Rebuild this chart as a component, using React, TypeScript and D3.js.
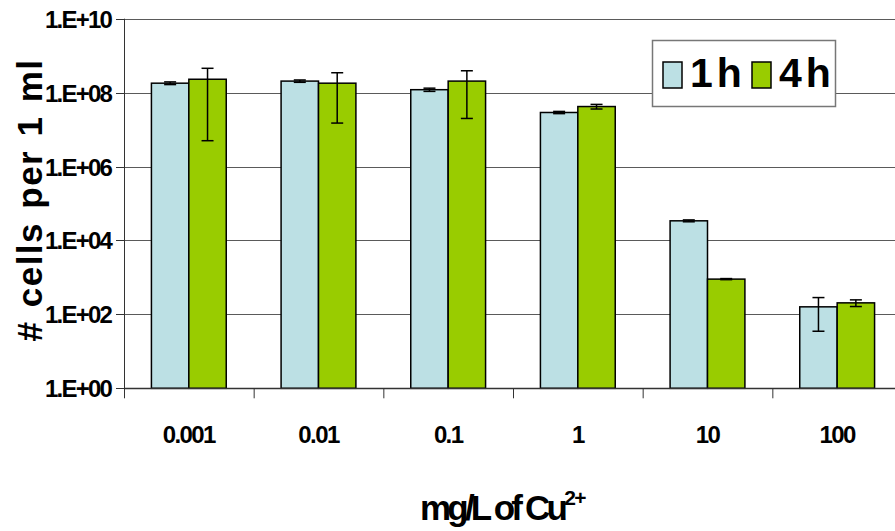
import * as d3 from "d3";
import { useEffect, useRef } from "react";

const categories = ["0.001", "0.01", "0.1", "1", "10", "100"];
const series = ["1h", "4h"];
const values1h = [1.8e8, 2.05e8, 1.2e8, 2.9e7, 3.4e4, 160];
const errors1h = [1.5e7, 1.5e7, 1.2e7, 2e6, 2e3, 125];
const values4h = [2.3e8, 1.8e8, 2.05e8, 4.2e7, 900, 205];
const errors4h = [2.25e8, 1.65e8, 1.85e8, 6e6, 30, 42];
const yTicks = [1, 1e2, 1e4, 1e6, 1e8, 1e10];
const yTickLabels = ["1.E+00", "1.E+02", "1.E+04", "1.E+06", "1.E+08", "1.E+10"];

const colors = ["#BCE0E4", "#99CC00"];

export default function App() {
  const ref = useRef<SVGSVGElement | null>(null);
  const width = 895;
  const height = 531;

  useEffect(() => {
    const svg = d3.select(ref.current);
    svg.selectAll("*").remove();

    const left = 124;
    const right = 902; // plot runs past the right edge, as in the original
    const top = 18.7;
    const bottom = 388.3;
    const font = "'Liberation Sans', Arial, sans-serif";

    const x0 = d3
      .scaleBand<string>()
      .domain(categories)
      .range([left, right])
      .paddingInner(0.423)
      .paddingOuter(0.2115);
    const x1 = d3.scaleBand<string>().domain(series).range([0, x0.bandwidth()]);
    const y = d3.scaleLog().domain([1, 1e10]).range([bottom, top]);

    // gridlines
    svg
      .append("g")
      .selectAll("line")
      .data(yTicks.slice(1))
      .join("line")
      .attr("x1", left)
      .attr("x2", right)
      .attr("y1", (d) => Math.round(y(d)) + 0.5)
      .attr("y2", (d) => Math.round(y(d)) + 0.5)
      .attr("stroke", "#5a5a5a")
      .attr("stroke-width", 1);

    const rows = categories.map((c, i) => [
      { c, s: "1h", v: values1h[i], e: errors1h[i], k: 0 },
      { c, s: "4h", v: values4h[i], e: errors4h[i], k: 1 },
    ]).flat();

    const g = svg.append("g");
    g.selectAll("rect")
      .data(rows)
      .join("rect")
      .attr("x", (d) => x0(d.c)! + x1(d.s)!)
      .attr("y", (d) => y(d.v))
      .attr("width", x1.bandwidth())
      .attr("height", (d) => bottom - y(d.v))
      .attr("fill", (d) => colors[d.k])
      .attr("stroke", "#000")
      .attr("stroke-width", 1.5);

    // error bars
    const eb = svg.append("g").attr("stroke", "#000").attr("stroke-width", 1.5);
    rows.forEach((d) => {
      const cx = x0(d.c)! + x1(d.s)! + x1.bandwidth() / 2;
      const hi = y(d.v + d.e);
      const lo = y(Math.max(d.v - d.e, 1));
      eb.append("line").attr("x1", cx).attr("x2", cx).attr("y1", hi).attr("y2", lo);
      eb.append("line").attr("x1", cx - 6).attr("x2", cx + 6).attr("y1", hi).attr("y2", hi);
      eb.append("line").attr("x1", cx - 6).attr("x2", cx + 6).attr("y1", lo).attr("y2", lo);
    });

    // axes
    const axisColor = "#333";
    svg
      .append("line")
      .attr("x1", left + 0.5)
      .attr("x2", left + 0.5)
      .attr("y1", top)
      .attr("y2", bottom)
      .attr("stroke", axisColor);
    svg
      .append("line")
      .attr("x1", left)
      .attr("x2", right)
      .attr("y1", Math.round(bottom) + 0.5)
      .attr("y2", Math.round(bottom) + 0.5)
      .attr("stroke", axisColor)
      .attr("stroke-width", 1.5);

    svg
      .append("g")
      .selectAll("line")
      .data(yTicks)
      .join("line")
      .attr("x1", left - 8)
      .attr("x2", left)
      .attr("y1", (d) => Math.round(y(d)) + 0.5)
      .attr("y2", (d) => Math.round(y(d)) + 0.5)
      .attr("stroke", axisColor);

    svg
      .append("g")
      .selectAll("text")
      .data(yTicks)
      .join("text")
      .attr("x", 111)
      .attr("y", (d) => y(d) + 9)
      .attr("text-anchor", "end")
      .attr("font-family", font)
      .attr("font-weight", "bold")
      .attr("font-size", 24)
      .attr("letter-spacing", -1.8)
      .text((d, i) => yTickLabels[i]);

    const step = x0.step();
    svg
      .append("g")
      .selectAll("line")
      .data(d3.range(categories.length + 1))
      .join("line")
      .attr("x1", (i) => left + i * step + 0.5)
      .attr("x2", (i) => left + i * step + 0.5)
      .attr("y1", bottom)
      .attr("y2", bottom + 10)
      .attr("stroke", axisColor);

    svg
      .append("g")
      .selectAll("text")
      .data(categories)
      .join("text")
      .attr("x", (d) => x0(d)! + x0.bandwidth() / 2)
      .attr("y", 443)
      .attr("text-anchor", "middle")
      .attr("font-family", font)
      .attr("font-weight", "bold")
      .attr("font-size", 24)
      .attr("letter-spacing", -1.6)
      .text((d) => d);

    // axis titles
    const xt = svg
      .append("text")
      .attr("x", 420)
      .attr("y", 520)
      .attr("font-family", font)
      .attr("font-weight", "bold")
      .attr("font-size", 35)
      .attr("letter-spacing", -3.8);
    xt.append("tspan").text("mg/L of Cu");
    xt.append("tspan")
      .attr("dy", -15)
      .attr("font-size", 21)
      .attr("letter-spacing", -1.5)
      .text("2+");

    svg
      .append("text")
      .attr("transform", "translate(42,200) rotate(-90)")
      .attr("text-anchor", "middle")
      .attr("font-family", font)
      .attr("font-weight", "bold")
      .attr("font-size", 35)
      .attr("letter-spacing", 1.5)
      .attr("word-spacing", 2)
      .text("# cells per 1 ml");

    // legend
    const lg = svg.append("g");
    lg.append("rect")
      .attr("x", 652.5)
      .attr("y", 40.5)
      .attr("width", 183)
      .attr("height", 66)
      .attr("fill", "#fff")
      .attr("stroke", "#777")
      .attr("stroke-width", 1.5);
    const legendX = [663, 752];
    series.forEach((s, i) => {
      lg.append("rect")
        .attr("x", legendX[i])
        .attr("y", 62)
        .attr("width", 19)
        .attr("height", 26)
        .attr("fill", colors[i])
        .attr("stroke", "#000")
        .attr("stroke-width", 1.5);
      lg.append("text")
        .attr("x", legendX[i] + 27)
        .attr("y", 87)
        .attr("font-family", font)
        .attr("font-weight", "bold")
        .attr("font-size", 41)
        .attr("letter-spacing", 4)
        .text(s);
    });
  }, []);

  return (
    <svg
      ref={ref}
      width={width}
      height={height}
      style={{ position: "absolute", left: 0, top: 0, background: "#fff" }}
    />
  );
}
